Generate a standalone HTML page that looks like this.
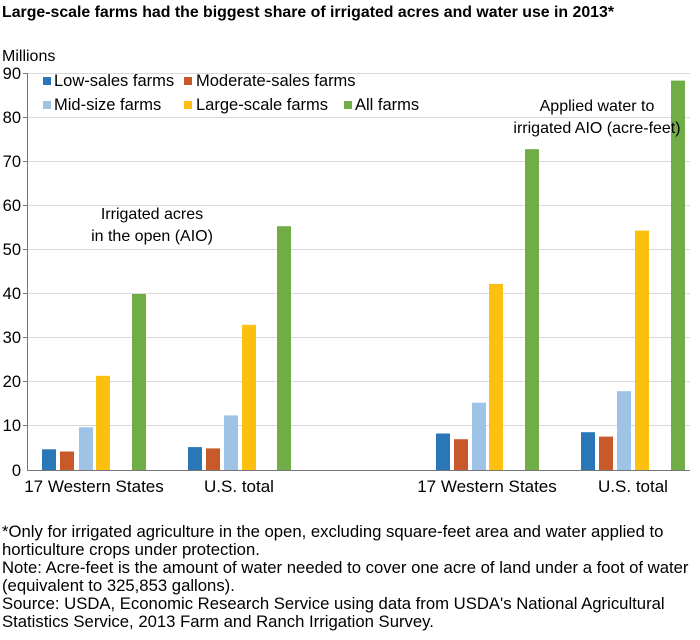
<!DOCTYPE html>
<html><head><meta charset="utf-8"><style>
body{margin:0;background:#fff;}
svg{display:block;font-family:"Liberation Sans",Arial,sans-serif;}
</style></head><body>
<svg width="700" height="640" viewBox="0 0 700 640">
<text x="2" y="17" font-size="16" font-weight="bold" fill="#000" textLength="612" lengthAdjust="spacingAndGlyphs">Large-scale farms had the biggest share of irrigated acres and water use in 2013*</text>
<text x="2" y="61" font-size="16" fill="#000">Millions</text>
<g stroke="#d9d9d9" stroke-width="1">
<line x1="28" y1="73.5" x2="690" y2="73.5"/><line x1="28" y1="117.5" x2="690" y2="117.5"/>
<line x1="28" y1="161.5" x2="690" y2="161.5"/><line x1="28" y1="205.5" x2="690" y2="205.5"/>
<line x1="28" y1="249.5" x2="690" y2="249.5"/><line x1="28" y1="293.5" x2="690" y2="293.5"/>
<line x1="28" y1="337.5" x2="690" y2="337.5"/><line x1="28" y1="381.5" x2="690" y2="381.5"/>
<line x1="28" y1="425.5" x2="690" y2="425.5"/>
</g>
<g stroke="#777"><line x1="27.5" y1="73" x2="27.5" y2="470"/><line x1="27" y1="470.5" x2="690" y2="470.5"/>
<line x1="23" y1="73.5" x2="28" y2="73.5"/><line x1="23" y1="117.5" x2="28" y2="117.5"/><line x1="23" y1="161.5" x2="28" y2="161.5"/><line x1="23" y1="205.5" x2="28" y2="205.5"/><line x1="23" y1="249.5" x2="28" y2="249.5"/><line x1="23" y1="293.5" x2="28" y2="293.5"/><line x1="23" y1="337.5" x2="28" y2="337.5"/><line x1="23" y1="381.5" x2="28" y2="381.5"/><line x1="23" y1="425.5" x2="28" y2="425.5"/></g>
<g font-size="16.5" fill="#000" text-anchor="end">
<text x="21" y="79">90</text><text x="21" y="123">80</text><text x="21" y="167">70</text><text x="21" y="211">60</text><text x="21" y="255">50</text><text x="21" y="299">40</text><text x="21" y="343">30</text><text x="21" y="387">20</text><text x="21" y="431">10</text><text x="21" y="476">0</text>
</g>
<g>
<rect x="42" y="449.3" width="14" height="20.7" fill="#2a77b8"/>
<rect x="60" y="451.5" width="14" height="18.5" fill="#c8592a"/>
<rect x="79" y="427.3" width="14" height="42.7" fill="#9fc3e6"/>
<rect x="96" y="375.8" width="14" height="94.2" fill="#fdc010"/>
<rect x="132" y="294" width="14" height="176" fill="#70ad47"/>

<rect x="188" y="447.1" width="14" height="22.9" fill="#2a77b8"/>
<rect x="206" y="448.4" width="14" height="21.6" fill="#c8592a"/>
<rect x="224" y="415.4" width="14" height="54.6" fill="#9fc3e6"/>
<rect x="242" y="324.8" width="14" height="145.2" fill="#fdc010"/>
<rect x="277" y="226.2" width="14" height="243.8" fill="#70ad47"/>

<rect x="436" y="433.5" width="14" height="36.5" fill="#2a77b8"/>
<rect x="454" y="439.2" width="14" height="30.8" fill="#c8592a"/>
<rect x="472" y="402.7" width="14" height="67.3" fill="#9fc3e6"/>
<rect x="489" y="283.9" width="14" height="186.1" fill="#fdc010"/>
<rect x="525" y="149.2" width="14" height="320.8" fill="#70ad47"/>

<rect x="581" y="432.2" width="14" height="37.8" fill="#2a77b8"/>
<rect x="599" y="436.6" width="14" height="33.4" fill="#c8592a"/>
<rect x="617" y="391.2" width="14" height="78.8" fill="#9fc3e6"/>
<rect x="635" y="230.6" width="14" height="239.4" fill="#fdc010"/>
<rect x="671" y="80.6" width="14" height="389.4" fill="#70ad47"/>
</g>
<g font-size="17" fill="#000" text-anchor="middle">
<text x="94" y="492">17 Western States</text><text x="239" y="492">U.S. total</text>
<text x="487" y="492">17 Western States</text><text x="633" y="492">U.S. total</text>
</g>
<g font-size="16" fill="#000" text-anchor="middle">
<text x="152" y="219">Irrigated acres</text><text x="152" y="241">in the open (AIO)</text>
<text x="597" y="111">Applied water to</text><text x="597" y="133">irrigated AIO (acre-feet)</text>
</g>
<g font-size="16.5" fill="#000">
<rect x="43" y="77" width="8" height="8" fill="#2a77b8"/><text x="54" y="86">Low-sales farms</text>
<rect x="184" y="77" width="8" height="8" fill="#c8592a"/><text x="196" y="86">Moderate-sales farms</text>
<rect x="43" y="101" width="8" height="8" fill="#9fc3e6"/><text x="54" y="110">Mid-size farms</text>
<rect x="184" y="101" width="8" height="8" fill="#fdc010"/><text x="196" y="110">Large-scale farms</text>
<rect x="344" y="101" width="8" height="8" fill="#70ad47"/><text x="355" y="110">All farms</text>
</g>
<g font-size="16.7" fill="#000">
<text x="2" y="537">*Only for irrigated agriculture in the open, excluding square-feet area and water applied to</text>
<text x="2" y="555">horticulture crops under protection.</text>
<text x="2" y="573">Note: Acre-feet is the amount of water needed to cover one acre of land under a foot of water</text>
<text x="2" y="591">(equivalent to 325,853 gallons).</text>
<text x="2" y="609">Source: USDA, Economic Research Service using data from USDA's National Agricultural</text>
<text x="2" y="627">Statistics Service, 2013 Farm and Ranch Irrigation Survey.</text>
</g>
</svg>
</body></html>
